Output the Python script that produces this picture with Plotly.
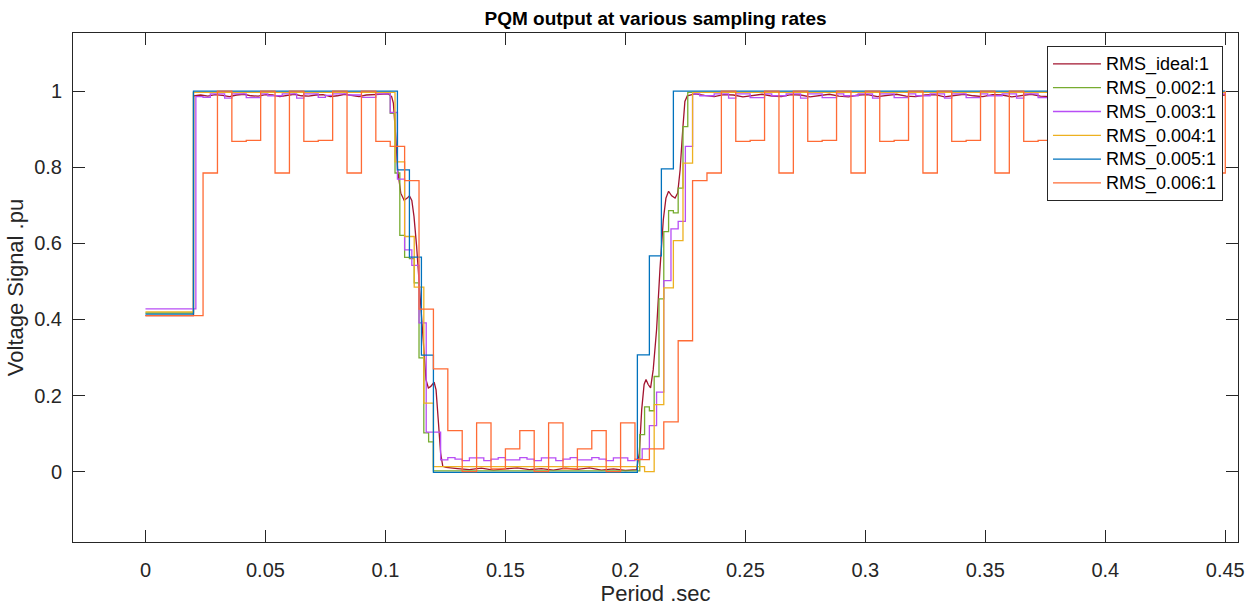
import plotly.graph_objects as go

# ---- data (time in s, voltage in pu) ----
# ideal RMS (smooth curve)
t_ideal = [0, 0.02, 0.0201, 0.023, 0.026, 0.029, 0.032, 0.035, 0.038, 0.041, 0.044, 0.047,
           0.050, 0.053, 0.056, 0.059, 0.062, 0.065, 0.068, 0.071, 0.074, 0.077, 0.080,
           0.083, 0.086, 0.089, 0.092, 0.095, 0.098, 0.1012, 0.1026, 0.1033, 0.1043, 0.1051,
           0.1064, 0.1078, 0.1091, 0.110, 0.111, 0.1119, 0.113, 0.1141, 0.1151, 0.1161,
           0.1169, 0.1179, 0.1189, 0.1203, 0.1211, 0.122, 0.123, 0.1239, 0.1253, 0.130,
           0.135, 0.140, 0.145, 0.150, 0.155, 0.160, 0.165, 0.170, 0.175, 0.180, 0.185,
           0.190, 0.195, 0.200, 0.2047, 0.2058, 0.2068, 0.2078, 0.2086, 0.2095, 0.2105,
           0.2116, 0.213, 0.2144, 0.2158, 0.2169, 0.218, 0.2193, 0.2207, 0.2218, 0.2228,
           0.2239, 0.2248, 0.2258, 0.229, 0.233, 0.237, 0.241, 0.245, 0.249, 0.253, 0.257,
           0.261, 0.265, 0.269, 0.273, 0.277, 0.281, 0.285, 0.289, 0.293, 0.297, 0.301,
           0.305, 0.309, 0.313, 0.317, 0.321, 0.325, 0.329, 0.333, 0.337, 0.341, 0.345,
           0.349, 0.353, 0.357, 0.361, 0.365, 0.369, 0.373, 0.377, 0.381, 0.385, 0.389,
           0.393, 0.397, 0.401, 0.405, 0.409, 0.413, 0.417, 0.421, 0.425, 0.429, 0.433,
           0.437, 0.441, 0.445, 0.45]
v_ideal = [0.41, 0.41, 0.988, 0.99, 0.987, 0.991, 0.989, 0.986, 0.99, 0.992, 0.988, 0.987,
           0.991, 0.99, 0.986, 0.989, 0.992, 0.988, 0.987, 0.99, 0.991, 0.986, 0.988,
           0.992, 0.989, 0.986, 0.99, 0.991, 0.992, 0.993, 0.986, 0.969, 0.881, 0.793,
           0.732, 0.713, 0.719, 0.725, 0.713, 0.671, 0.592, 0.487, 0.391, 0.294,
           0.242, 0.22, 0.224, 0.235, 0.215, 0.137, 0.049, 0.014, 0.011, 0.008,
           0.005, 0.009, 0.004, 0.007, 0.01, 0.005, 0.008, 0.004, 0.009, 0.006, 0.01,
           0.004, 0.007, 0.003, 0.005, 0.049, 0.163, 0.229, 0.242, 0.229, 0.22,
           0.268, 0.373, 0.531, 0.662, 0.719, 0.737, 0.725, 0.719, 0.732, 0.793,
           0.899, 0.973, 0.988, 0.993, 0.989, 0.986, 0.991, 0.99, 0.985, 0.989, 0.992,
           0.987, 0.986, 0.991, 0.99, 0.985, 0.988, 0.992, 0.987, 0.985, 0.99, 0.991,
           0.986, 0.989, 0.992, 0.987, 0.986, 0.99, 0.991, 0.985, 0.988, 0.992, 0.988,
           0.986, 0.991, 0.99, 0.985, 0.989, 0.992, 0.987, 0.986, 0.99, 0.991, 0.986,
           0.988, 0.992, 0.987, 0.985, 0.99, 0.991, 0.986, 0.989, 0.992, 0.987, 0.986,
           0.99, 0.991, 0.988, 0.99]

# sampled series: change points (value held until next change)
t_002 = [0, 0.020, 0.102, 0.104, 0.106, 0.108, 0.110, 0.112, 0.114, 0.116, 0.118, 0.120,
         0.206, 0.208, 0.210, 0.212, 0.214, 0.216, 0.218, 0.220, 0.222, 0.224, 0.226, 0.45]
v_002 = [0.417, 0.997, 0.942, 0.785, 0.621, 0.563, 0.56, 0.496, 0.299, 0.102, 0.078, 0.002,
         0.097, 0.17, 0.16, 0.25, 0.454, 0.631, 0.686, 0.68, 0.745, 0.907, 0.997, 0.997]

t_003 = [0, 0.021, 0.024, 0.027, 0.033, 0.036, 0.042, 0.048, 0.051, 0.057, 0.063, 0.066,
         0.072, 0.075, 0.078, 0.084, 0.090, 0.096, 0.102, 0.105, 0.108, 0.111, 0.114,
         0.117, 0.123, 0.126, 0.129, 0.132, 0.135, 0.141, 0.144, 0.147, 0.150, 0.156,
         0.159, 0.162, 0.165, 0.171, 0.174, 0.177, 0.180, 0.186, 0.189, 0.192, 0.195,
         0.201, 0.204, 0.207, 0.210, 0.213, 0.216, 0.219, 0.222, 0.225, 0.228, 0.231,
         0.237, 0.243, 0.246, 0.252, 0.258, 0.261, 0.267, 0.273, 0.276, 0.282, 0.288,
         0.291, 0.297, 0.303, 0.306, 0.312, 0.318, 0.321, 0.327, 0.333, 0.336, 0.342,
         0.348, 0.351, 0.357, 0.363, 0.366, 0.372, 0.378, 0.381, 0.387, 0.393, 0.396,
         0.402, 0.408, 0.411, 0.417, 0.423, 0.426, 0.432, 0.438, 0.441, 0.447, 0.45]
v_003 = [0.428, 0.986, 0.984, 0.993, 0.982, 0.993, 0.983, 0.993, 0.988, 0.993, 0.982, 0.993,
         0.984, 0.989, 0.993, 0.99, 0.984, 0.993, 0.944, 0.769, 0.583, 0.542, 0.391,
         0.104, 0.031, 0.037, 0.033, 0.029, 0.036, 0.029, 0.033, 0.037, 0.031, 0.037,
         0.033, 0.029, 0.036, 0.029, 0.033, 0.037, 0.031, 0.037, 0.033, 0.029, 0.036,
         0.029, 0.033, 0.06, 0.121, 0.209, 0.502, 0.638, 0.658, 0.855, 0.993, 0.988,
         0.993, 0.982, 0.993, 0.983, 0.993, 0.988, 0.993, 0.982, 0.993, 0.983, 0.993,
         0.988, 0.993, 0.982, 0.993, 0.983, 0.993, 0.988, 0.993, 0.982, 0.993, 0.983,
         0.993, 0.988, 0.993, 0.982, 0.993, 0.983, 0.993, 0.988, 0.993, 0.982, 0.993,
         0.983, 0.993, 0.988, 0.993, 0.982, 0.993, 0.983, 0.993, 0.988, 0.993, 0.993]

t_004 = [0, 0.020, 0.104, 0.108, 0.112, 0.116, 0.120, 0.208, 0.212, 0.216, 0.220, 0.224,
         0.228, 0.45]
v_004 = [0.420, 0.997, 0.814, 0.618, 0.485, 0.18, 0.013, 0.0, 0.176, 0.483, 0.607, 0.811,
         0.997, 0.997]

t_005 = [0, 0.020, 0.105, 0.110, 0.115, 0.120, 0.205, 0.210, 0.215, 0.220, 0.45]
v_005 = [0.414, 1.0, 0.793, 0.564, 0.306, -0.002, 0.307, 0.567, 0.796, 1.0, 1.0]

t_006 = [0, 0.024, 0.030, 0.036, 0.042, 0.048, 0.054, 0.060, 0.066, 0.072, 0.078, 0.084,
         0.090, 0.096, 0.102, 0.108, 0.114, 0.120, 0.126, 0.132, 0.138, 0.144, 0.150,
         0.156, 0.162, 0.168, 0.174, 0.180, 0.186, 0.192, 0.198, 0.204, 0.210, 0.216,
         0.222, 0.228, 0.234, 0.240, 0.246, 0.252, 0.258, 0.264, 0.270, 0.276, 0.282,
         0.288, 0.294, 0.300, 0.306, 0.312, 0.318, 0.324, 0.330, 0.336, 0.342, 0.348,
         0.354, 0.360, 0.366, 0.372, 0.378, 0.384, 0.390, 0.396, 0.402, 0.408, 0.414,
         0.420, 0.426, 0.432, 0.438, 0.444, 0.45]
v_006 = [0.41, 0.785, 1.0, 0.868, 0.871, 1.0, 0.785, 1.0, 0.868, 0.871, 1.0, 0.785,
         1.0, 0.868, 0.855, 0.765, 0.427, 0.27, 0.108, 0.0, 0.128, 0.007, 0.06,
         0.108, 0.0, 0.128, 0.007, 0.06, 0.108, 0.0, 0.128, 0.0315, 0.06, 0.131,
         0.344, 0.765, 0.785, 1.0, 0.868, 0.871, 1.0, 0.785, 1.0, 0.868, 0.871,
         1.0, 0.785, 1.0, 0.868, 0.871, 1.0, 0.785, 1.0, 0.868, 0.871, 1.0,
         0.785, 1.0, 0.868, 0.871, 1.0, 0.785, 1.0, 0.868, 0.871, 1.0, 0.785,
         1.0, 0.868, 0.871, 1.0, 0.785, 1.0]

x_ticks = [0, 0.05, 0.1, 0.15, 0.2, 0.25, 0.3, 0.35, 0.4, 0.45]
x_labels = ["0", "0.05", "0.1", "0.15", "0.2", "0.25", "0.3", "0.35", "0.4", "0.45"]
y_ticks = [0, 0.2, 0.4, 0.6, 0.8, 1]
y_labels = ["0", "0.2", "0.4", "0.6", "0.8", "1"]

FONT = "Liberation Sans, Arial, Helvetica, sans-serif"
AXIS_COLOR = "#262626"

series = [
    ("RMS_ideal:1", t_ideal, v_ideal, "#A2142F", "linear"),
    ("RMS_0.002:1", t_002, v_002, "#77AC30", "hv"),
    ("RMS_0.003:1", t_003, v_003, "#B84EF5", "hv"),
    ("RMS_0.004:1", t_004, v_004, "#EDB120", "hv"),
    ("RMS_0.005:1", t_005, v_005, "#0072BD", "hv"),
    ("RMS_0.006:1", t_006, v_006, "#FF6B35", "hv"),
]

fig = go.Figure()
for name, t, v, color, shape in series:
    fig.add_trace(go.Scatter(
        x=t, y=v, mode="lines",
        # legend text is sized inline so the rows can stay as tight as MATLAB's
        name=f'<span style="font-size:18px">{name}</span>',
        line=dict(color=color, width=1.3, shape=shape),
    ))

axis_common = dict(
    showgrid=False, zeroline=False, automargin=False,
    showline=True, linecolor=AXIS_COLOR, linewidth=1, mirror="ticks",
    ticks="inside", ticklen=12, tickcolor=AXIS_COLOR, tickwidth=1,
    tickfont=dict(family=FONT, size=20, color=AXIS_COLOR),
)

fig.update_layout(
    width=1259, height=610,
    margin=dict(l=73, r=21, t=33, b=68),
    paper_bgcolor="white", plot_bgcolor="white",
    title=dict(text="<b>PQM output at various sampling rates</b>",
               font=dict(family=FONT, size=19, color="black"),
               x=0.5, xanchor="center", xref="paper",
               y=1 - 18 / 610, yref="container", yanchor="middle"),
    xaxis=dict(axis_common, range=[-0.0302, 0.4553],
               tickvals=x_ticks, ticktext=x_labels, ticklabelstandoff=10,
               title=dict(text="Period .sec", standoff=3,
                          font=dict(family=FONT, size=22, color=AXIS_COLOR))),
    yaxis=dict(axis_common, range=[-0.185, 1.153],
               tickvals=y_ticks, ticktext=y_labels, ticklabelstandoff=6,
               title=dict(text="Voltage Signal .pu", standoff=4,
                          font=dict(family=FONT, size=22, color=AXIS_COLOR))),
    legend=dict(x=0.9871, xanchor="right", y=0.9745, yanchor="top",
                bgcolor="white", bordercolor=AXIS_COLOR, borderwidth=1,
                font=dict(family=FONT, size=16, color="black"),
                itemwidth=48, tracegroupgap=0),
    showlegend=True,
)

# drop the browser's default 8px body margin so the figure sits at the page origin
fig.write_html("out.html", config={"displayModeBar": False},
               post_script="document.body.style.margin='0';")
